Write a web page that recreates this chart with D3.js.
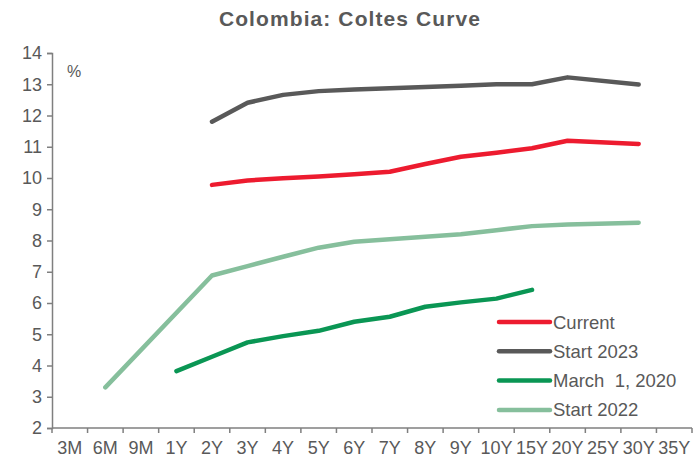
<!DOCTYPE html>
<html>
<head>
<meta charset="utf-8">
<script src="https://cdn.jsdelivr.net/npm/d3@7"></script>
<style>
  html, body { margin: 0; padding: 0; background: #fff; }
  svg { display: block; font-family: "Liberation Sans", Arial, sans-serif; }
</style>
</head>
<body>
<svg id="chart" width="699" height="463"></svg>
<script>
// Tenor buckets along the curve
const tenors = ["3M", "6M", "9M", "1Y", "2Y", "3Y", "4Y", "5Y", "6Y", "7Y", "8Y", "9Y", "10Y", "15Y", "20Y", "25Y", "30Y", "35Y"];

// Yields (%) per tenor; null where no bond exists
const current   = [null, null, null, null, 9.78, 9.92, 9.99, 10.05, 10.12, 10.20, 10.45, 10.68, 10.81, 10.95, 11.19, null, 11.09, null];
const start2023 = [null, null, null, null, 11.80, 12.41, 12.66, 12.78, 12.83, 12.87, 12.91, 12.95, 13.00, 13.00, 13.22, null, 12.99, null];
const march2020 = [null, null, null, 3.82, 4.28, 4.74, 4.94, 5.11, 5.40, 5.56, 5.88, 6.02, 6.14, 6.42, null, null, null, null];
const start2022 = [null, 3.30, null, null, 6.88, 7.18, 7.48, 7.77, 7.96, 8.04, 8.12, 8.20, 8.33, 8.46, 8.51, null, 8.57, null];

const seriesNames = ["Current", "Start 2023", "March  1, 2020", "Start 2022"];
const seriesColors = ["#ED1B2F", "#595959", "#0A9654", "#86BF9C"];
const seriesValues = [current, start2023, march2020, start2022];

const yTicks = [2, 3, 4, 5, 6, 7, 8, 9, 10, 11, 12, 13, 14];

const svg = d3.select("#chart");
const margin = { left: 52, right: 7, top: 53, bottom: 35 };
const W = 699, H = 463;
const axisColor = "#7F7F7F";
const textColor = "#595959";
const labelSize = 18;

const x = d3.scaleBand().domain(tenors).range([margin.left, W - margin.right]).padding(0);
const y = d3.scaleLinear().domain([2, 14]).range([H - margin.bottom, margin.top]);

// Title
svg.append("text")
  .attr("x", 350).attr("y", 26)
  .attr("text-anchor", "middle")
  .attr("font-size", 21).attr("font-weight", "bold")
  .attr("letter-spacing", 1.1)
  .attr("fill", textColor)
  .text("Colombia: Coltes Curve");

// Y axis
const yAxis = svg.append("g")
  .attr("transform", `translate(${margin.left},0)`)
  .call(d3.axisLeft(y).tickValues(yTicks).tickSize(5).tickPadding(5).tickFormat(d3.format("d")));
yAxis.select(".domain").attr("stroke", axisColor).attr("stroke-width", 1.5);
yAxis.selectAll(".tick line").attr("stroke", axisColor).attr("stroke-width", 1.5);
yAxis.selectAll(".tick text")
  .attr("fill", textColor)
  .attr("font-size", labelSize)
  .attr("font-family", "Liberation Sans, Arial, sans-serif");

// X axis: ticks sit on the boundaries between tenor buckets
const xBase = H - margin.bottom;
const xAxis = svg.append("g").attr("transform", `translate(0,${xBase})`);
xAxis.append("line")
  .attr("x1", margin.left).attr("x2", W - margin.right)
  .attr("stroke", axisColor).attr("stroke-width", 1.5);
const boundaries = tenors.map(t => x(t)).concat([x(tenors[tenors.length - 1]) + x.bandwidth()]);
xAxis.selectAll(".xtick").data(boundaries).join("line")
  .attr("class", "xtick")
  .attr("x1", d => d).attr("x2", d => d)
  .attr("y1", 0).attr("y2", 5)
  .attr("stroke", axisColor).attr("stroke-width", 1.5);
xAxis.selectAll(".xlabel").data(tenors).join("text")
  .attr("class", "xlabel")
  .attr("x", d => x(d) + x.bandwidth() / 2)
  .attr("y", 26)
  .attr("text-anchor", "middle")
  .attr("font-size", labelSize)
  .attr("fill", textColor)
  .text(d => d);

// Unit label
svg.append("text")
  .attr("x", 67).attr("y", 77)
  .attr("font-size", 16).attr("fill", textColor)
  .text("%");

// Curves (gaps are bridged, as in the source chart)
const line = d3.line()
  .x(d => x(d.t) + x.bandwidth() / 2)
  .y(d => y(d.v));

const drawOrder = [3, 2, 0, 1];
drawOrder.forEach(i => {
  const pts = tenors.map((t, k) => ({ t, v: seriesValues[i][k] })).filter(d => d.v != null);
  svg.append("path")
    .datum(pts)
    .attr("fill", "none")
    .attr("stroke", seriesColors[i])
    .attr("stroke-width", 4.5)
    .attr("stroke-linecap", "round")
    .attr("stroke-linejoin", "round")
    .attr("d", line);
});

// Legend
const legend = svg.append("g").attr("transform", "translate(497,322)");
seriesNames.forEach((name, i) => {
  const g = legend.append("g").attr("transform", `translate(0,${i * 29.3})`);
  g.append("line")
    .attr("x1", 2).attr("x2", 53)
    .attr("stroke", seriesColors[i]).attr("stroke-width", 4.5)
    .attr("stroke-linecap", "round");
  g.append("text")
    .attr("x", 56).attr("y", 6.5)
    .attr("font-size", 18.5).attr("fill", textColor)
    .style("white-space", "pre")
    .text(name);
});
</script>
</body>
</html>
